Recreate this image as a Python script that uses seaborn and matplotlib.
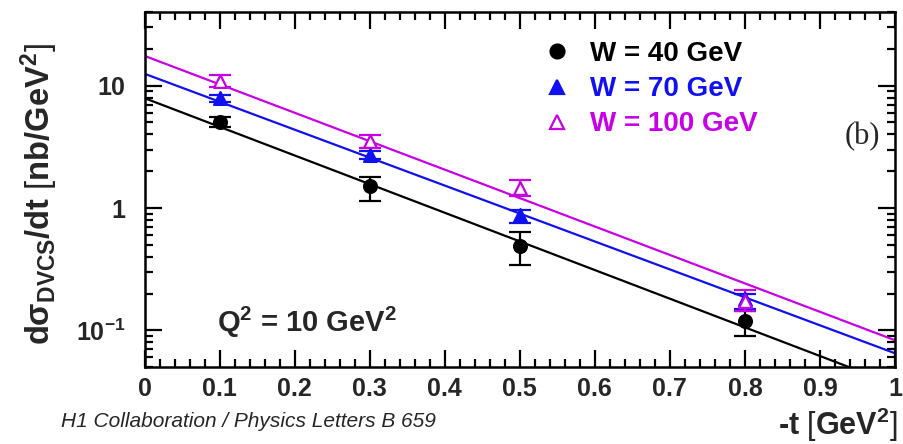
import numpy as np
import matplotlib
matplotlib.use('Agg')
import matplotlib.pyplot as plt
import pandas as pd
import seaborn as sns
from matplotlib.ticker import MultipleLocator, LogLocator, NullFormatter, FixedLocator, FixedFormatter

sns.set_style('ticks')
plt.rcParams['font.family'] = ['Liberation Sans', 'DejaVu Sans']
plt.rcParams['mathtext.fontset'] = 'custom'
plt.rcParams['mathtext.rm'] = 'Liberation Sans'
plt.rcParams['mathtext.bf'] = 'Liberation Sans:bold'
plt.rcParams['mathtext.it'] = 'Liberation Sans:italic'

t_vals = [0.1, 0.3, 0.5, 0.8]
w40 = [5.0, 1.5, 0.49, 0.12]
w40_lo = [0.45, 0.35, 0.15, 0.03]
w40_hi = [0.5, 0.3, 0.15, 0.025]
w70 = [7.9, 2.7, 0.87, 0.18]
w70_lo = [0.5, 0.2, 0.12, 0.03]
w70_hi = [0.5, 0.2, 0.1, 0.02]
w100 = [11.0, 3.5, 1.45, 0.175]
w100_lo = [1.2, 0.4, 0.2, 0.03]
w100_hi = [1.3, 0.45, 0.25, 0.04]

# fit lines: value at -t = 0 and -t = 1
fit_t = [0.0, 1.0]
fit40 = [7.9, 0.036]
fit70 = [12.5, 0.065]
fit100 = [17.5, 0.083]

labels = ['W = 40 GeV', 'W = 70 GeV', 'W = 100 GeV']
colors = ['#000000', '#1010f0', '#c800e6']

fig = plt.figure(figsize=(9.04, 4.44), dpi=100)
ax = fig.add_axes([0.160, 0.173, 0.830, 0.800])

fits = [fit40, fit70, fit100]
for fv, c in zip(fits, colors):
    sns.lineplot(x=fit_t, y=fv, color=c, lw=1.6, ax=ax)

series = [(w40, w40_lo, w40_hi), (w70, w70_lo, w70_hi), (w100, w100_lo, w100_hi)]
markers = ['o', '^', '^']
faces = [colors[0], colors[1], 'white']
handles = []
for (vals, lo, hi), c, m, fc, lab in zip(series, colors, markers, faces, labels):
    ax.errorbar(t_vals, vals, yerr=[lo, hi], fmt='none', ecolor=c, elinewidth=1.6,
                capsize=8, capthick=1.6, zorder=3)
    df = pd.DataFrame({'t': t_vals, 'y': vals})
    sns.scatterplot(data=df, x='t', y='y', marker=m, s=85, color=fc, edgecolor=c,
                    linewidth=1.6, ax=ax, zorder=4)
    h, = ax.plot([], [], ls='none', marker=m, ms=10, mfc=fc, mec=c, mew=1.6)
    handles.append(h)

ax.set_yscale('log')
ax.set_xlim(0, 1)
ax.set_ylim(0.05, 40)

ax.set_xticks([0, 0.1, 0.2, 0.3, 0.4, 0.5, 0.6, 0.7, 0.8, 0.9, 1.0])
ax.set_xticklabels(['0', '0.1', '0.2', '0.3', '0.4', '0.5', '0.6', '0.7', '0.8', '0.9', '1'])
ax.xaxis.set_minor_locator(MultipleLocator(0.02))
ax.yaxis.set_major_locator(FixedLocator([0.1, 1, 10]))
ax.yaxis.set_major_formatter(FixedFormatter(['$\\mathbf{10^{-1}}$', '1', '10']))
ax.yaxis.set_minor_locator(LogLocator(base=10, subs=np.arange(2, 10)))
ax.yaxis.set_minor_formatter(NullFormatter())

ax.tick_params(which='both', direction='in', top=True, right=True, width=1.6, color='black')
ax.tick_params(which='major', length=12, labelsize=18)
ax.tick_params(which='minor', length=6)
ax.tick_params(axis='x', which='major', pad=7)
ax.tick_params(axis='y', which='major', pad=14)
for lab in ax.get_xticklabels() + ax.get_yticklabels():
    lab.set_fontweight('bold')
for sp in ax.spines.values():
    sp.set_linewidth(1.8)
    sp.set_color('black')

ax.set_xlabel('')
ax.set_ylabel(r'$\mathbf{d\sigma_{DVCS}/dt}$ $[$nb/GeV$^\mathbf{2}$$]$', fontsize=23.5, fontweight='bold')
ax.yaxis.set_label_coords(-0.113, 0.487)

leg = ax.legend(handles, labels, loc='upper left', bbox_to_anchor=(0.527, 0.918), frameon=False,
                prop={'size': 20, 'weight': 'bold'}, handletextpad=0.6, labelspacing=0.33,
                handlelength=1.2, borderpad=0, borderaxespad=0, labelcolor=colors)

ax.text(0.957, 3.86, '(b)', fontsize=22, family=['Liberation Serif', 'DejaVu Serif'], ha='center', va='center')
ax.text(0.097, 0.116, r'Q$^\mathbf{2}$ = 10 GeV$^\mathbf{2}$', fontsize=21, fontweight='bold', ha='left', va='center')

fig.text(0.993, 0.02, r'-t $[$GeV$^\mathbf{2}$$]$', fontsize=22, fontweight='bold', ha='right', va='baseline')
fig.text(0.068, 0.038, 'H1 Collaboration / Physics Letters B 659', fontsize=15, style='italic',
         ha='left', va='baseline')

fig.savefig('out.png', dpi=100, facecolor='white')
